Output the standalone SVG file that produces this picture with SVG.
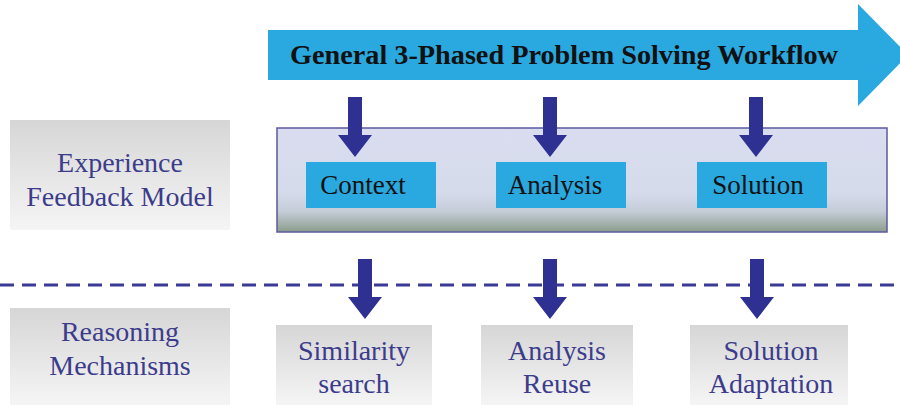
<svg xmlns="http://www.w3.org/2000/svg" width="900" height="405" viewBox="0 0 900 405">
<defs>
<linearGradient id="gray" x1="0" y1="0" x2="0" y2="1">
<stop offset="0" stop-color="#d6d6d6"/>
<stop offset="1" stop-color="#f5f5f5"/>
</linearGradient>
<linearGradient id="model" x1="0" y1="0" x2="0" y2="1">
<stop offset="0" stop-color="#d9ddef"/>
<stop offset="0.62" stop-color="#d6dbec"/>
<stop offset="0.8" stop-color="#c5cdd8"/>
<stop offset="1" stop-color="#8a9d8c"/>
</linearGradient>
<path id="dn" d="M-7,0 H7 V38 H17 L0,60 L-17,38 H-7 Z"/>
</defs>
<style>
.lbl{font-family:"Liberation Serif","Times New Roman",serif;font-size:28px;fill:#3c3c8c;text-anchor:middle}
.in{font-family:"Liberation Serif","Times New Roman",serif;font-size:27px;fill:#111;text-anchor:middle}
.gbox{fill:url(#gray)}
.cbox{fill:#2aa8e0}
.arr{fill:#2e3192}
</style>
<rect width="900" height="405" fill="#ffffff"/>
<g id="workflow">
<path d="M268,30 H858 V4 L908,55 L858,106 V80 H268 Z" fill="#2aa8e0"/>
<text x="290" y="64" textLength="548" lengthAdjust="spacingAndGlyphs" style="font-family:'Liberation Serif','Times New Roman',serif;font-weight:bold;font-size:28px;fill:#111">General 3-Phased Problem Solving Workflow</text>
</g>
<g id="experience-label">
<rect class="gbox" x="10" y="120" width="220" height="110"/>
<text class="lbl" x="120" y="172">Experience</text>
<text class="lbl" x="120" y="206">Feedback Model</text>
</g>
<g id="model-box">
<rect x="277" y="128" width="610" height="104" fill="url(#model)" stroke="#5a5aa0" stroke-width="1.5"/>
</g>
<g id="context">
<rect class="cbox" x="306" y="162" width="130" height="46"/>
<text class="in" x="363" y="194">Context</text>
</g>
<g id="analysis">
<rect class="cbox" x="496" y="162" width="130" height="46"/>
<text class="in" x="555" y="194">Analysis</text>
</g>
<g id="solution">
<rect class="cbox" x="697" y="162" width="130" height="46"/>
<text class="in" x="758" y="194">Solution</text>
</g>
<g id="reasoning-label">
<rect class="gbox" x="10" y="308" width="220" height="97"/>
<text class="lbl" x="120" y="341">Reasoning</text>
<text class="lbl" x="120" y="375">Mechanisms</text>
</g>
<g id="similarity">
<rect class="gbox" x="276" y="325" width="156" height="80"/>
<text class="lbl" x="354" y="360">Similarity</text>
<text class="lbl" x="354" y="393">search</text>
</g>
<g id="analysis-reuse">
<rect class="gbox" x="481" y="325" width="152" height="80"/>
<text class="lbl" x="557" y="360">Analysis</text>
<text class="lbl" x="557" y="393">Reuse</text>
</g>
<g id="solution-adaptation">
<rect class="gbox" x="690" y="325" width="158" height="80"/>
<text class="lbl" x="771" y="360">Solution</text>
<text class="lbl" x="771" y="393">Adaptation</text>
</g>
<g id="connectors">
<line x1="0" y1="285" x2="900" y2="285" stroke="#3b3b96" stroke-width="3" stroke-dasharray="14 8"/>
<use href="#dn" class="arr" x="355" y="97"/>
<use href="#dn" class="arr" x="550" y="97"/>
<use href="#dn" class="arr" x="756" y="97"/>
<use href="#dn" class="arr" x="365" y="259"/>
<use href="#dn" class="arr" x="550" y="259"/>
<use href="#dn" class="arr" x="757" y="259"/>
</g>
</svg>
